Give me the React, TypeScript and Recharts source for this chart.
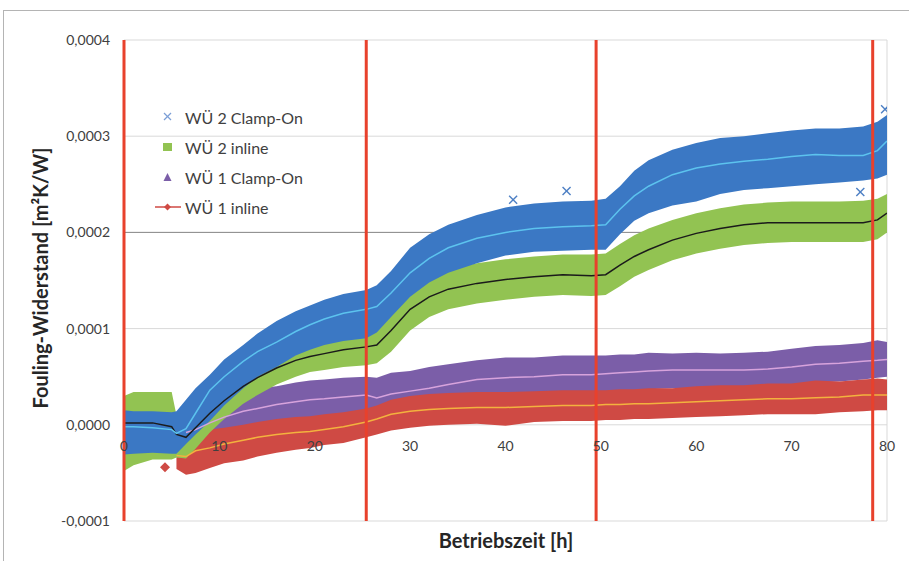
import React from 'react';
import {
  ComposedChart,
  Area,
  Line,
  Scatter,
  XAxis,
  YAxis,
  CartesianGrid,
  ReferenceLine,
  ReferenceDot,
} from 'recharts';

// Betriebszeit [h]
const hours = [0, 1, 3, 5, 5.5, 6.5, 7.5, 9, 10.5, 12.5, 14, 16, 18, 19.5, 21, 23, 25.4, 26.5, 28, 30, 32, 34, 37, 40, 43, 46, 49, 50.5, 52, 53.5, 55, 57.5, 60, 62.5, 65, 67.5, 70, 72.5, 75, 77.5, 79, 80];

// all values in 1e-4 m²K/W
// WÜ 2 Clamp-On
const wu2ClampMean = [-0.02, -0.02, -0.03, -0.05, -0.09, -0.04, 0.12, 0.36, 0.5, 0.66, 0.76, 0.86, 0.97, 1.04, 1.1, 1.16, 1.2, 1.23, 1.37, 1.58, 1.73, 1.84, 1.94, 2.0, 2.04, 2.06, 2.07, 2.08, 2.24, 2.38, 2.48, 2.6, 2.67, 2.71, 2.74, 2.76, 2.79, 2.81, 2.8, 2.8, 2.85, 2.95];
const wu2ClampHigh = [0.15, 0.14, 0.14, 0.13, 0.14, 0.26, 0.38, 0.52, 0.68, 0.83, 0.95, 1.08, 1.18, 1.24, 1.3, 1.36, 1.4, 1.45, 1.6, 1.84, 1.98, 2.08, 2.18, 2.26, 2.3, 2.32, 2.33, 2.35, 2.48, 2.64, 2.75, 2.86, 2.93, 2.98, 3.0, 3.03, 3.06, 3.08, 3.08, 3.1, 3.15, 3.22];
const wu2ClampLow = [-0.31, -0.3, -0.29, -0.3, -0.3, -0.2, -0.1, 0.04, 0.2, 0.38, 0.5, 0.6, 0.72, 0.78, 0.83, 0.87, 0.9, 0.96, 1.12, 1.33, 1.48, 1.58, 1.68, 1.76, 1.8, 1.81, 1.82, 1.82, 1.98, 2.12, 2.2, 2.28, 2.32, 2.4, 2.44, 2.46, 2.48, 2.5, 2.52, 2.54, 2.56, 2.6];

// WÜ 2 inline
const wu2InlineMean = [0.02, 0.02, 0.02, -0.02, -0.1, -0.13, -0.03, 0.12, 0.25, 0.4, 0.49, 0.59, 0.67, 0.71, 0.74, 0.78, 0.81, 0.83, 0.98, 1.2, 1.33, 1.41, 1.47, 1.51, 1.54, 1.56, 1.55, 1.56, 1.66, 1.75, 1.82, 1.92, 1.99, 2.04, 2.08, 2.1, 2.1, 2.1, 2.1, 2.1, 2.13, 2.2];
const wu2InlineHigh = [0.3, 0.34, 0.34, 0.34, 0.1, 0.07, 0.17, 0.32, 0.45, 0.6, 0.69, 0.79, 0.87, 0.91, 0.94, 0.98, 1.01, 1.04, 1.2, 1.42, 1.55, 1.62, 1.68, 1.72, 1.75, 1.77, 1.77, 1.78, 1.88, 1.97, 2.04, 2.13, 2.2, 2.25, 2.29, 2.31, 2.32, 2.32, 2.32, 2.33, 2.35, 2.4];
const wu2InlineLow = [-0.48, -0.42, -0.36, -0.36, -0.34, -0.35, -0.25, -0.08, 0.06, 0.22, 0.31, 0.42, 0.5, 0.55, 0.57, 0.6, 0.62, 0.64, 0.76, 0.98, 1.12, 1.2, 1.26, 1.3, 1.33, 1.35, 1.34, 1.35, 1.44, 1.54, 1.61, 1.71, 1.78, 1.83, 1.87, 1.89, 1.9, 1.9, 1.9, 1.9, 1.93, 2.0];

// WÜ 1 Clamp-On
const wu1ClampMean = [null, null, null, null, null, -0.08, -0.05, 0.02, 0.08, 0.14, 0.17, 0.21, 0.24, 0.26, 0.27, 0.29, 0.31, 0.28, 0.32, 0.35, 0.38, 0.42, 0.47, 0.49, 0.5, 0.52, 0.52, 0.53, 0.54, 0.55, 0.56, 0.57, 0.57, 0.57, 0.57, 0.58, 0.6, 0.63, 0.64, 0.66, 0.67, 0.68];
const wu1ClampHigh = [null, null, null, null, null, 0.12, 0.16, 0.22, 0.28, 0.34, 0.38, 0.4, 0.44, 0.46, 0.47, 0.49, 0.5, 0.49, 0.54, 0.56, 0.6, 0.63, 0.67, 0.7, 0.7, 0.72, 0.72, 0.72, 0.73, 0.73, 0.75, 0.74, 0.75, 0.74, 0.75, 0.76, 0.79, 0.82, 0.83, 0.85, 0.88, 0.86];
const wu1ClampLow = [null, null, null, null, null, -0.28, -0.24, -0.17, -0.11, -0.05, -0.02, 0.02, 0.05, 0.07, 0.08, 0.1, 0.12, 0.1, 0.13, 0.16, 0.19, 0.23, 0.28, 0.3, 0.31, 0.33, 0.33, 0.34, 0.35, 0.36, 0.37, 0.38, 0.38, 0.38, 0.38, 0.39, 0.41, 0.44, 0.45, 0.47, 0.49, 0.5];

// WÜ 1 inline
const wu1InlineMean = [null, null, null, null, -0.32, -0.33, -0.27, -0.24, -0.2, -0.16, -0.13, -0.1, -0.08, -0.07, -0.05, -0.02, 0.03, 0.06, 0.11, 0.14, 0.16, 0.17, 0.18, 0.18, 0.19, 0.2, 0.2, 0.21, 0.21, 0.22, 0.22, 0.23, 0.24, 0.25, 0.26, 0.27, 0.27, 0.28, 0.29, 0.31, 0.31, 0.31];
const wu1InlineHigh = [null, null, null, null, -0.2, -0.14, -0.08, -0.05, -0.03, 0.0, 0.03, 0.06, 0.08, 0.09, 0.11, 0.13, 0.17, 0.2, 0.26, 0.3, 0.32, 0.33, 0.34, 0.34, 0.35, 0.36, 0.36, 0.36, 0.37, 0.37, 0.38, 0.38, 0.4, 0.41, 0.41, 0.43, 0.43, 0.46, 0.45, 0.47, 0.48, 0.47];
const wu1InlineLow = [null, null, null, null, -0.46, -0.52, -0.5, -0.45, -0.4, -0.37, -0.33, -0.29, -0.26, -0.24, -0.21, -0.19, -0.13, -0.1, -0.06, -0.03, -0.01, 0.0, 0.01, -0.01, 0.03, 0.04, 0.04, 0.05, 0.05, 0.06, 0.06, 0.07, 0.08, 0.09, 0.1, 0.11, 0.11, 0.11, 0.13, 0.14, 0.15, 0.15];

// single stray points outside the bands
const wu2ClampOutliers = [
  { h: 40.8, v: 2.34 },
  { h: 46.4, v: 2.43 },
  { h: 77.2, v: 2.42 },
  { h: 79.8, v: 3.28 },
];
const wu1InlineOutliers = [{ h: 4.3, v: -0.44 }];

// red marker lines (cleaning / restart events)
const eventHours = [0, 25.4, 49.5, 78.5];

const xTicks = [0, 10, 20, 30, 40, 50, 60, 70, 80];
const yTicks = [-1, 0, 1, 2, 3, 4];
const darkGridValues = [2];

const legendItems = [
  { name: 'WÜ 2 Clamp-On', marker: 'cross' },
  { name: 'WÜ 2 inline', marker: 'square' },
  { name: 'WÜ 1 Clamp-On', marker: 'triangle' },
  { name: 'WÜ 1 inline', marker: 'diamondLine' },
];

const COLORS = {
  blue: '#3b78c4',
  blueMean: '#5cc3ee',
  green: '#92c352',
  greenMean: '#1b1b1b',
  purple: '#7b5ea8',
  purpleMean: '#d7a3dc',
  red: '#cf4a44',
  redMean: '#f3b23e',
  event: '#e8412c',
};

const FONT = 'Lato, "Open Sans", sans-serif';

const band = (lo: (number | null)[], hi: (number | null)[], i: number) =>
  lo[i] == null || hi[i] == null ? null : [lo[i], hi[i]];

const Cross = (props: any) => {
  const { cx, cy } = props;
  if (cx == null || cy == null) return null;
  return (
    <g stroke="#4d7fc4" strokeWidth={1.4}>
      <line x1={cx - 4} y1={cy - 4} x2={cx + 4} y2={cy + 4} />
      <line x1={cx - 4} y1={cy + 4} x2={cx + 4} y2={cy - 4} />
    </g>
  );
};

const Diamond = (props: any) => {
  const { cx, cy } = props;
  if (cx == null || cy == null) return null;
  return <path d={`M${cx},${cy - 5}L${cx + 5},${cy}L${cx},${cy + 5}L${cx - 5},${cy}Z`} fill={COLORS.red} />;
};

function LegendMarker({ type }: { type: string }) {
  if (type === 'cross') {
    return (
      <svg width={28} height={14}>
        <g stroke="#7c9fd6" strokeWidth={1.3}>
          <line x1={10} y1={3} x2={17} y2={10} />
          <line x1={10} y1={10} x2={17} y2={3} />
        </g>
      </svg>
    );
  }
  if (type === 'square') {
    return (
      <svg width={28} height={14}>
        <rect x={9} y={3} width={9} height={8} fill={COLORS.green} />
      </svg>
    );
  }
  if (type === 'triangle') {
    return (
      <svg width={28} height={14}>
        <path d="M13.5,3L17.5,11L9.5,11Z" fill={COLORS.purple} />
      </svg>
    );
  }
  return (
    <svg width={28} height={14}>
      <line x1={1} y1={7} x2={27} y2={7} stroke={COLORS.red} strokeWidth={1.5} />
      <path d="M13.5,3.5L17,7L13.5,10.5L10,7Z" fill={COLORS.red} />
    </svg>
  );
}

export default function App() {
  const data = hours.map((h, i) => ({
    h,
    wu2ClampBand: band(wu2ClampLow, wu2ClampHigh, i),
    wu2ClampMean: wu2ClampMean[i],
    wu2InlineBand: band(wu2InlineLow, wu2InlineHigh, i),
    wu2InlineMean: wu2InlineMean[i],
    wu1ClampBand: band(wu1ClampLow, wu1ClampHigh, i),
    wu1ClampMean: wu1ClampMean[i],
    wu1InlineBand: band(wu1InlineLow, wu1InlineHigh, i),
    wu1InlineMean: wu1InlineMean[i],
  }));

  const fmt = (v: number) => (v / 10000).toFixed(4).replace('.', ',');

  return (
    <div
      style={{
        position: 'absolute',
        left: 0,
        top: 0,
        width: 909,
        height: 561,
        background: '#fff',
        fontFamily: FONT,
        overflow: 'hidden',
      }}
    >
      {/* outer frame (top + left edge only) */}
      <div
        style={{
          position: 'absolute',
          left: 3,
          top: 10,
          width: 906,
          height: 551,
          borderTop: '1px solid #b4b4b4',
          borderLeft: '1px solid #b4b4b4',
        }}
      />
      <ComposedChart
        width={909}
        height={561}
        data={data}
        margin={{ top: 40, right: 22, bottom: 39, left: 64 }}
        style={{ position: 'absolute', left: 0, top: 0 }}
      >
        <CartesianGrid stroke="#d9d9d9" />
        <CartesianGrid stroke="#8a8a8a" vertical={false} horizontalValues={darkGridValues} />
        <XAxis
          dataKey="h"
          type="number"
          domain={[0, 80]}
          ticks={xTicks}
          allowDataOverflow
          tick={false}
          tickLine={false}
          axisLine={false}
          height={1}
        />
        <YAxis
          type="number"
          domain={[-1, 4]}
          ticks={yTicks}
          allowDataOverflow
          width={60}
          tickLine={false}
          axisLine={false}
          tickMargin={8}
          tickFormatter={fmt}
          tick={{ fontSize: 14, fill: '#404040', fontFamily: FONT }}
        />

        <Area type="linear" dataKey="wu1ClampBand" stroke="none" fill={COLORS.purple} fillOpacity={1} isAnimationActive={false} />
        <Area type="linear" dataKey="wu1InlineBand" stroke="none" fill={COLORS.red} fillOpacity={1} isAnimationActive={false} />
        <Area type="linear" dataKey="wu2InlineBand" stroke="none" fill={COLORS.green} fillOpacity={1} isAnimationActive={false} />
        <Area type="linear" dataKey="wu2ClampBand" stroke="none" fill={COLORS.blue} fillOpacity={1} isAnimationActive={false} />

        <Line type="linear" dataKey="wu1ClampMean" stroke={COLORS.purpleMean} strokeWidth={1.5} dot={false} isAnimationActive={false} />
        <Line type="linear" dataKey="wu1InlineMean" stroke={COLORS.redMean} strokeWidth={1.5} dot={false} isAnimationActive={false} />
        <Line type="linear" dataKey="wu2InlineMean" stroke={COLORS.greenMean} strokeWidth={1.5} dot={false} isAnimationActive={false} />
        <Line type="linear" dataKey="wu2ClampMean" stroke={COLORS.blueMean} strokeWidth={1.5} dot={false} isAnimationActive={false} />

        <Scatter data={wu2ClampOutliers} dataKey="v" shape={Cross} isAnimationActive={false} />
        <Scatter data={wu1InlineOutliers} dataKey="v" shape={Diamond} isAnimationActive={false} />

        {eventHours.map((h) => (
          <ReferenceLine key={`ev-${h}`} x={h} stroke={COLORS.event} strokeWidth={3} />
        ))}

        {xTicks.map((t) => (
          <ReferenceDot
            key={`xt-${t}`}
            x={t}
            y={0}
            r={0}
            stroke="none"
            label={{ value: String(t), position: 'bottom', offset: 16, fontSize: 14, fill: '#404040', fontFamily: FONT }}
          />
        ))}
      </ComposedChart>

      {/* legend */}
      <div style={{ position: 'absolute', left: 154, top: 102 }}>
        {legendItems.map((it) => (
          <div
            key={it.name}
            style={{
              display: 'flex',
              alignItems: 'center',
              height: 30,
              fontSize: 16,
              color: '#404040',
            }}
          >
            <LegendMarker type={it.marker} />
            <span style={{ marginLeft: 3 }}>{it.name}</span>
          </div>
        ))}
      </div>

      {/* axis titles */}
      <div
        style={{
          position: 'absolute',
          left: 40,
          top: 278,
          transform: 'translate(-50%, -50%) rotate(-90deg)',
          whiteSpace: 'nowrap',
          fontWeight: 700,
          fontSize: 20,
          color: '#262626',
        }}
      >
        Fouling-Widerstand [m²K/W]
      </div>
      <div
        style={{
          position: 'absolute',
          left: 506,
          top: 540,
          transform: 'translate(-50%, -50%)',
          whiteSpace: 'nowrap',
          fontWeight: 700,
          fontSize: 20,
          color: '#262626',
        }}
      >
        Betriebszeit [h]
      </div>
    </div>
  );
}
